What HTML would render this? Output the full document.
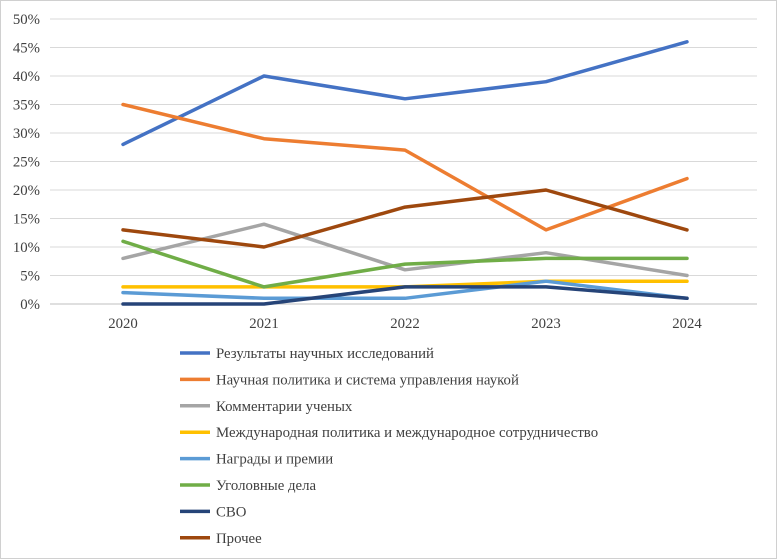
<!DOCTYPE html>
<html><head><meta charset="utf-8"><style>
body{margin:0;background:#fff;}
svg{display:block;font-family:"Liberation Serif","DejaVu Serif",serif;}
</style></head><body>
<svg id="chart" width="777" height="559">
<rect x="0.5" y="0.5" width="776" height="558" fill="#fff" stroke="#d0d0d0"/>
<g id="grid"></g><g id="lines"></g><g id="legend"></g>
</svg>
<script>
const years=["2020","2021","2022","2023","2024"];
const yTicks=[0,5,10,15,20,25,30,35,40,45,50];
const seriesNames=["Результаты научных исследований","Научная политика и система управления наукой","Комментарии ученых","Международная политика и международное сотрудничество","Награды и премии","Уголовные дела","СВО","Прочее"];
const seriesColors=["#4472c4","#ed7d31","#a5a5a5","#ffc000","#5b9bd5","#70ad47","#264478","#9e480e"];
const sResults=[28,40,36,39,46];
const sPolicy=[35,29,27,13,22];
const sComments=[8,14,6,9,5];
const sIntl=[3,3,3,4,4];
const sAwards=[2,1,1,4,1];
const sCriminal=[11,3,7,8,8];
const sSvo=[0,0,3,3,1];
const sOther=[13,10,17,20,13];
const allSeries=[sResults,sPolicy,sComments,sIntl,sAwards,sCriminal,sSvo,sOther];
const NS="http://www.w3.org/2000/svg";
const x=i=>123+i*141;
const y=v=>304-v*5.7;
function mk(t,a,p){const e=document.createElementNS(NS,t);for(const k in a)e.setAttribute(k,a[k]);p.appendChild(e);return e;}
const grid=document.getElementById('grid');
yTicks.forEach(v=>{
  const l=mk('line',{x1:50,x2:757,y1:y(v),y2:y(v),stroke:v===0?'#bfbfbf':'#d9d9d9','stroke-width':1},grid);
  
  
  const t=mk('text',{x:40,y:y(v)+5,'text-anchor':'end','font-size':14.8,fill:'#404040'},grid);
  t.textContent=v+'%';
  
  
});
years.forEach((yr,i)=>{
  const t=mk('text',{x:x(i),y:328,'text-anchor':'middle','font-size':14.8,fill:'#404040'},grid);
  t.textContent=yr;
  
  
});
const lines=document.getElementById('lines');
allSeries.forEach((s,k)=>{
  const p=mk('polyline',{points:s.map((v,i)=>x(i)+','+y(v)).join(' '),fill:'none',stroke:seriesColors[k],'stroke-width':3.5,'stroke-linejoin':'round','stroke-linecap':'round'},lines);
  
  
});
const lg=document.getElementById('legend');
seriesNames.forEach((n,k)=>{
  const yy=353+k*26.4;
  const g=mk('g',{},lg);
  
  
  mk('line',{x1:180,x2:210,y1:yy,y2:yy,stroke:seriesColors[k],'stroke-width':3.5},g);
  const t=mk('text',{x:216,y:yy+5,'font-size':14.8,fill:'#404040'},g);
  t.textContent=n;
});
</script>
</body></html>
